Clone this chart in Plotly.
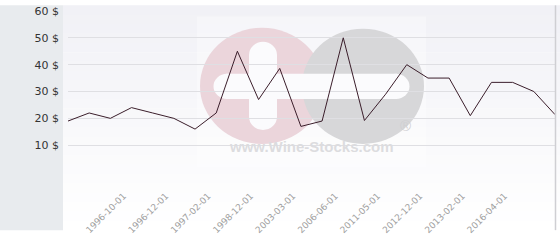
import plotly.graph_objects as go

# ---- data ----
prices = [19, 22, 20, 24, 22, 20, 16, 22, 45, 27, 38.6, 17, 19, 50, 19.2,
          29, 40, 35, 35, 21, 33.4, 33.4, 30, 21.4]
tick_positions = [3, 5, 7, 9, 11, 13, 15, 17, 19, 21]
tick_labels = ["1996-10-01", "1996-12-01", "1997-02-01", "1998-12-01", "2003-03-01",
               "2006-06-01", "2011-05-01", "2012-12-01", "2013-02-01", "2016-04-01"]
y_ticks = [0, 10, 20, 30, 40, 50, 60]
y_tick_labels = ["", "10 $", "20 $", "30 $", "40 $", "50 $", "60 $"]

x_idx = list(range(len(prices)))

# ---- geometry helpers (pixel -> paper) ----
L, R, T, B = 68, 555, 5, 179
W, H = R - L, B - T
def px(x):
    return (x - L) / W
def py(y):
    return (B - y) / H

shapes = []
# left gray panel
shapes.append(dict(type="rect", xref="paper", yref="paper", x0=px(0), x1=px(63),
                   y0=py(240), y1=py(0), fillcolor="#e8ebee", line_width=0, layer="below"))
# gradient background bands
n = 24
top = (241, 241, 246)
for i in range(n):
    t = i / (n - 1)
    c = tuple(round(top[k] + (255 - top[k]) * t) for k in range(3))
    shapes.append(dict(type="rect", xref="paper", yref="paper",
                       x0=px(63), x1=px(560), y0=py(i * 10 + 10.5), y1=py(i * 10),
                       fillcolor="rgb(%d,%d,%d)" % c, line_width=0, layer="below"))
# watermark logo
shapes.append(dict(type="rect", xref="paper", yref="paper", x0=px(197), x1=px(426),
                   y0=py(173), y1=py(12), fillcolor="rgba(255,255,255,0.35)",
                   line_width=0, layer="below"))
shapes.append(dict(type="circle", xref="paper", yref="paper", x0=px(200), x1=px(324),
                   y0=py(148), y1=py(24), fillcolor="#ebd5db", line_width=0, layer="below"))
shapes.append(dict(type="circle", xref="paper", yref="paper", x0=px(302), x1=px(424),
                   y0=py(148), y1=py(25), fillcolor="#d7d7d9", line_width=0, layer="below"))
wc = "#fbfbfd"
shapes.append(dict(type="rect", xref="paper", yref="paper", x0=px(226), x1=px(397),
                   y0=py(100), y1=py(73), fillcolor=wc, line_width=0, layer="below"))
shapes.append(dict(type="rect", xref="paper", yref="paper", x0=px(249), x1=px(277),
                   y0=py(119), y1=py(53), fillcolor=wc, line_width=0, layer="below"))
for cx, cy in [(227, 86.5), (396, 86.5)]:
    shapes.append(dict(type="circle", xref="paper", yref="paper", x0=px(cx - 13.5),
                       x1=px(cx + 13.5), y0=py(cy + 13.5), y1=py(cy - 13.5),
                       fillcolor=wc, line_width=0, layer="below"))
for cx, cy in [(263, 53), (263, 119)]:
    shapes.append(dict(type="circle", xref="paper", yref="paper", x0=px(cx - 14),
                       x1=px(cx + 14), y0=py(cy + 14), y1=py(cy - 14),
                       fillcolor=wc, line_width=0, layer="below"))
# right border
shapes.append(dict(type="line", xref="paper", yref="paper", x0=px(555.5), x1=px(555.5),
                   y0=py(240), y1=py(0), line=dict(color="#cfcfd3", width=1.5)))

fig = go.Figure()
fig.add_trace(go.Scatter(x=x_idx, y=prices, mode="lines",
                         line=dict(color="#3b1e2b", width=1), hoverinfo="skip"))

fig.update_layout(
    width=560, height=240,
    margin=dict(l=L, r=560 - R, t=T, b=240 - B),
    paper_bgcolor="white", plot_bgcolor="rgba(0,0,0,0)",
    showlegend=False, shapes=shapes,
    font=dict(family="DejaVu Sans"),
    annotations=[
        dict(text="<b>www.Wine-Stocks.com</b>", xref="paper", yref="paper",
             x=px(311), y=py(162), showarrow=False,
             font=dict(family="Liberation Sans", size=15, color="#dcdcdf")),
        dict(text="®", xref="paper", yref="paper", x=px(413), y=py(139),
             showarrow=False, font=dict(family="Liberation Sans", size=15, color="#cfcfd2")),
    ],
)
fig.update_xaxes(range=[0, len(prices) - 1], tickmode="array", tickvals=tick_positions,
                 ticktext=tick_labels, tickangle=-45, showgrid=False, zeroline=False,
                 showline=False, ticks="", tickfont=dict(size=9, color="#a0a0a0"),
                 ticklabelstandoff=15, ticklabelshift=-8, ticklabeloverflow="allow")
fig.update_yaxes(range=[-0.349, 60.349], tickmode="array", tickvals=y_ticks,
                 ticktext=y_tick_labels, showgrid=True, gridcolor="#dfdfe3", gridwidth=1,
                 zeroline=False, showline=False, ticks="",
                 tickfont=dict(size=11, color="#333333"), ticklabelstandoff=8,
                 ticklabeloverflow="allow")

fig.write_html("out.html")
